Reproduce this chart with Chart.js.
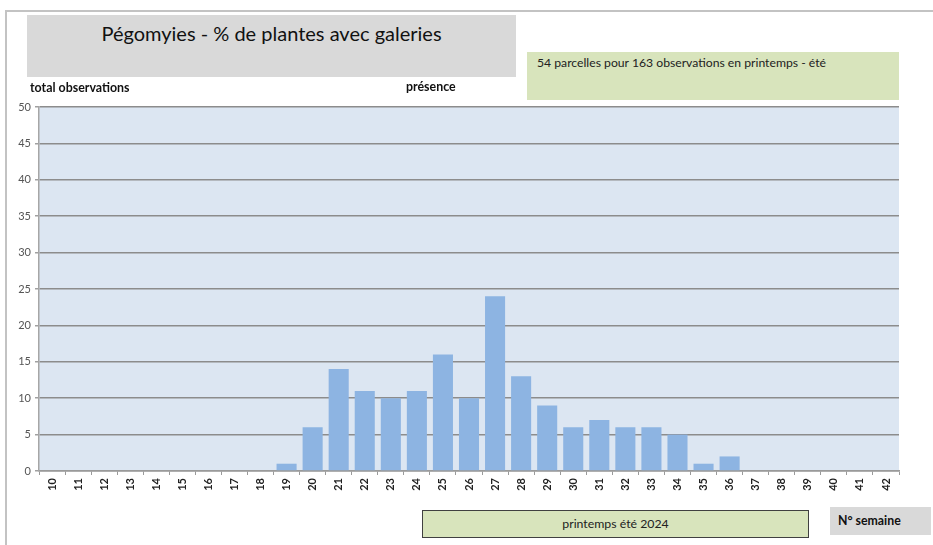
<!DOCTYPE html>
<html><head><meta charset="utf-8">
<script src="https://cdn.jsdelivr.net/npm/chart.js@4"></script>
<style>
html,body{margin:0;padding:0;background:#fff;}
#wrap{position:relative;width:933px;height:545px;overflow:hidden;font-family:Lato,"Open Sans",sans-serif;}
#c{position:absolute;left:0;top:0;}
.box{position:absolute;box-sizing:border-box;}
#frame{left:5px;top:10px;width:960px;height:560px;border-top:2px solid #c3c3c3;border-left:2px solid #c3c3c3;}
#title{left:27px;top:15px;width:489px;height:62px;background:#d9d9d9;text-align:center;font-size:20px;color:#111;padding-top:6px;}
#note{left:527px;top:52px;width:372px;height:48px;background:#d8e4bc;font-size:12.2px;color:#222;padding:3px 0 0 10px;}
.lbl{position:absolute;font-size:12.4px;font-weight:bold;color:#111;}
#season{left:422px;top:510px;width:387px;height:28px;background:#d8e4bc;border:1.5px solid #404040;text-align:center;font-size:12.3px;color:#222;line-height:25px;}
#week{left:830px;top:507px;width:101px;height:28px;background:#d9d9d9;font-size:12.3px;font-weight:bold;color:#111;line-height:28px;padding-left:8px;}
</style></head>
<body>
<div id="wrap">
<canvas id="c" width="933" height="545"></canvas>
<div class="box" id="frame"></div>
<div class="box" id="title">Pégomyies - % de plantes avec galeries</div>
<div class="box" id="note">54 parcelles pour 163 observations en printemps - été</div>
<div class="lbl" style="left:30px;top:80px;">total observations</div>
<div class="lbl" style="left:406px;top:79px;">présence</div>
<div class="box" id="season">printemps été 2024</div>
<div class="box" id="week">N° semaine</div>
</div>
<script>
const weeks = ["10","11","12","13","14","15","16","17","18","19","20","21","22","23","24","25","26","27","28","29","30","31","32","33","34","35","36","37","38","39","40","41","42"];
const presence = [0,0,0,0,0,0,0,0,0,1,6,14,11,10,11,16,10,24,13,9,6,7,6,6,5,1,2,0,0,0,0,0,0];
const yMin = 0, yMax = 50, yStep = 5;

const bgPlugin = {
  id:'bg',
  beforeDraw(chart){
    const a = chart.chartArea, ctx = chart.ctx;
    ctx.save();
    ctx.fillStyle = '#dce6f2';
    ctx.fillRect(a.left, a.top, a.right - a.left, a.bottom - a.top);
    ctx.restore();
  }
};

new Chart(document.getElementById('c'), {
  type:'bar',
  data:{labels:weeks, datasets:[{label:'présence', data:presence, backgroundColor:'#8db4e2', borderWidth:0, categoryPercentage:1, barPercentage:0.77}]},
  options:{
    responsive:false, animation:false,
    layout:{padding:{left:0, top:107, right:34, bottom:0}},
    plugins:{legend:{display:false}, tooltip:{enabled:false}},
    scales:{
      x:{
        afterFit(s){ s.height = 74; },
        grid:{display:true, drawOnChartArea:false, drawTicks:true, tickLength:4, tickColor:'#9a9a9a', offset:true},
        border:{display:true, color:'#9a9a9a', width:1.5},
        ticks:{minRotation:90, maxRotation:90, autoSkip:false, padding:3, color:'#222', font:{family:'Lato', size:11, weight:'bold'}}
      },
      y:{
        min:yMin, max:yMax,
        afterFit(s){ s.width = 39; },
        grid:{color:'#8c8c8c', lineWidth:1.5, tickLength:4, tickColor:'#a0a0a0'},
        border:{display:true, color:'#a6a6a6', width:1.5},
        ticks:{stepSize:yStep, padding:4, color:'#555', font:{family:'Lato', size:11}}
      }
    }
  },
  plugins:[bgPlugin]
});
</script>
</body></html>
